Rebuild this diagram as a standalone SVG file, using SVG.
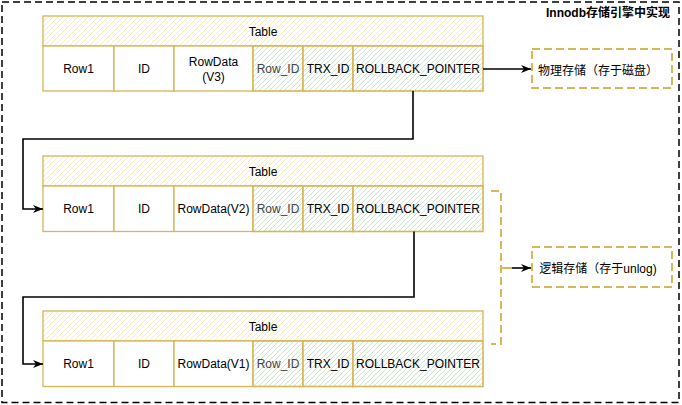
<svg xmlns="http://www.w3.org/2000/svg" width="682" height="405" viewBox="0 0 682 405">
<style>
text{font-family:"Liberation Sans","Noto Sans CJK SC",Arial,sans-serif;font-size:12px;fill:#000;text-anchor:middle}
.hdr{fill:url(#hy);stroke:#d6b656;stroke-width:1.3}
.cell{fill:#fff;stroke:#d6b656;stroke-width:1.3}
.gcell{fill:url(#hg);stroke:#d6b656;stroke-width:1.6}
.conn{fill:none;stroke:#000;stroke-width:1.6}
.dbox{fill:#fff;stroke:#d6b656;stroke-width:2;stroke-dasharray:8 4}
.gray{fill:#444}
</style>
<defs>
<pattern id="hy" patternUnits="userSpaceOnUse" width="5" height="5">
<rect width="5" height="5" fill="#fff"/>
<path d="M-1,1 L1,-1 M0,5 L5,0 M4,6 L6,4" stroke="#f9ecbc" stroke-width="1"/>
</pattern>
<pattern id="hg" patternUnits="userSpaceOnUse" width="5" height="5">
<rect width="5" height="5" fill="#fff"/>
<path d="M-1,1 L1,-1 M0,5 L5,0 M4,6 L6,4" stroke="#cfe4cc" stroke-width="1"/>
</pattern>
<marker id="arr" markerUnits="userSpaceOnUse" markerWidth="11" markerHeight="9" refX="10" refY="4.5" orient="auto">
<path d="M0,0.5 L10,4.5 L0,8.5 L3,4.5 z" fill="#000"/>
</marker>
</defs>

<g id="container">
<rect x="2" y="2" width="677" height="400.5" fill="none" stroke="#000" stroke-width="1.5" stroke-dasharray="7 4"/>
<text x="670" y="17" style="text-anchor:end;font-weight:bold">Innodb存储引擎中实现</text>
</g>

<g id="table1">
<rect class="hdr" x="43" y="16" width="440" height="30"/>
<text x="263" y="35.5">Table</text>
<rect class="cell" x="43" y="46" width="71" height="45"/>
<rect class="cell" x="114" y="46" width="60" height="45"/>
<rect class="cell" x="174" y="46" width="79" height="45"/>
<rect class="gcell" x="253" y="46" width="50" height="45"/>
<rect class="gcell" x="303" y="46" width="50" height="45"/>
<rect class="gcell" x="353" y="46" width="130" height="45"/>
<text x="78.5" y="73">Row1</text>
<text x="144" y="73">ID</text>
<text x="213.5" y="66">RowData</text>
<text x="213.5" y="81">(V3)</text>
<text class="gray" x="278" y="73">Row_ID</text>
<text x="328" y="73">TRX_ID</text>
<text x="418" y="73">ROLLBACK_POINTER</text>
</g>

<g id="table2">
<rect class="hdr" x="43" y="156" width="440" height="30"/>
<text x="263" y="175.5">Table</text>
<rect class="cell" x="43" y="186" width="71" height="45.5"/>
<rect class="cell" x="114" y="186" width="60" height="45.5"/>
<rect class="cell" x="174" y="186" width="79" height="45.5"/>
<rect class="gcell" x="253" y="186" width="50" height="45.5"/>
<rect class="gcell" x="303" y="186" width="50" height="45.5"/>
<rect class="gcell" x="353" y="186" width="130" height="45.5"/>
<text x="78.5" y="213">Row1</text>
<text x="144" y="213">ID</text>
<text x="213.5" y="213">RowData(V2)</text>
<text class="gray" x="278" y="213">Row_ID</text>
<text x="328" y="213">TRX_ID</text>
<text x="418" y="213">ROLLBACK_POINTER</text>
</g>

<g id="table3">
<rect class="hdr" x="43" y="311" width="440" height="30"/>
<text x="263" y="330.5">Table</text>
<rect class="cell" x="43" y="341" width="71" height="45.5"/>
<rect class="cell" x="114" y="341" width="60" height="45.5"/>
<rect class="cell" x="174" y="341" width="79" height="45.5"/>
<rect class="gcell" x="253" y="341" width="50" height="45.5"/>
<rect class="gcell" x="303" y="341" width="50" height="45.5"/>
<rect class="gcell" x="353" y="341" width="130" height="45.5"/>
<text x="78.5" y="368">Row1</text>
<text x="144" y="368">ID</text>
<text x="213.5" y="368">RowData(V1)</text>
<text class="gray" x="278" y="368">Row_ID</text>
<text x="328" y="368">TRX_ID</text>
<text x="418" y="368">ROLLBACK_POINTER</text>
</g>

<g id="physical">
<rect class="dbox" x="532" y="49" width="140" height="39"/>
<text x="598" y="74.5">物理存储（存于磁盘）</text>
</g>

<g id="logical">
<rect class="dbox" x="532" y="247" width="140" height="40"/>
<text x="598" y="273">逻辑存储（存于unlog)</text>
</g>

<g id="bracket">
<path d="M491,191 H501 V344 H491" fill="none" stroke="#d6b656" stroke-width="2" stroke-dasharray="8 4"/>
<line x1="501" y1="268" x2="512" y2="268" stroke="#d6b656" stroke-width="2"/>
</g>

<g id="connectors">
<path class="conn" d="M483,69 H531" marker-end="url(#arr)"/>
<path class="conn" d="M413,91 V139 H23 V209 H43" marker-end="url(#arr)"/>
<path class="conn" d="M414,231.5 V297 H23 V364 H43" marker-end="url(#arr)"/>
<path class="conn" d="M512,268 H531" marker-end="url(#arr)"/>
</g>
</svg>
